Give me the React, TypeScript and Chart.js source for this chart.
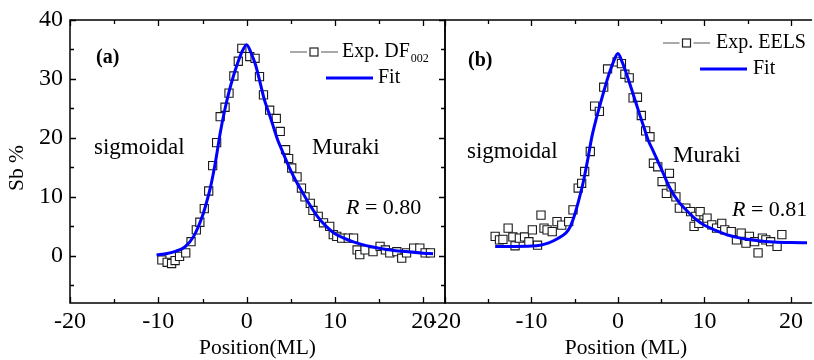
import React, { useEffect, useRef } from "react";
import { Chart, registerables } from "chart.js";

Chart.register(...registerables);

const FONT = "'Liberation Serif', 'Times New Roman', serif";

// ---------- axis ticks ----------
const xMajorTicks = [-20, -10, 0, 10, 20];
const xMinorTicks = [-15, -5, 5, 15];
const yMajorTicks = [0, 10, 20, 30, 40];
const yMinorTicks = [-5, 5, 15, 25, 35];

// ---------- panel (a): Exp. DF002 ----------
const expAx = [-9.6, -9.0, -8.5, -8.1, -7.6, -6.9, -6.3, -5.7, -5.3, -4.8, -4.3, -3.85, -3.4, -3.0, -2.45, -2.0, -1.45, -0.95, -0.55, 0.35, 0.95, 1.45, 1.9, 2.6, 3.35, 3.8, 4.4, 4.75, 5.1, 5.7, 6.2, 6.6, 7.2, 7.5, 8.1, 8.7, 9.4, 9.8, 10.2, 10.75, 11.5, 12.1, 12.5, 12.8, 13.4, 14.3, 15.1, 15.7, 16.2, 17.0, 17.55, 18.1, 18.9, 19.6, 20.2, 20.8];
const expAy = [-0.7, -1.1, -1.3, -0.8, -0.1, 0.5, 2.4, 4.4, 5.7, 8.0, 11.0, 15.3, 19.2, 23.6, 25.2, 27.6, 30.5, 33.0, 35.2, 33.8, 33.5, 30.4, 27.3, 24.7, 23.3, 21.1, 18.0, 16.5, 14.9, 13.4, 11.5, 10.0, 8.9, 7.7, 6.7, 5.6, 5.0, 3.6, 3.3, 3.0, 3.0, 3.0, 1.0, 0.2, 1.0, 0.7, 1.6, 1.0, 0.5, 0.7, -0.4, 0.5, 1.3, 1.3, 0.5, 0.5];
const fitAx = [-10.2, -9, -8, -7, -6, -5, -4.5, -4, -3.5, -3, -2.5, -2, -1.5, -1, -0.5, 0, 0.5, 1, 1.5, 2, 2.5, 3, 3.5, 4, 4.5, 5, 5.5, 6, 7, 8, 9, 10, 11, 12, 13, 14, 16, 18, 20, 21.1];
const fitAy = [0.15, 0.4, 0.8, 1.5, 3.3, 6.8, 9.3, 12.3, 16.2, 20.8, 24.6, 27.8, 30.5, 32.8, 34.7, 35.8, 34.4, 32.4, 29.5, 26.5, 24.3, 22.0, 19.7, 17.9, 16.1, 14.4, 12.9, 11.6, 9.0, 6.7, 5.0, 3.75, 3.0, 2.4, 1.95, 1.58, 1.05, 0.72, 0.45, 0.34];

// ---------- panel (b): Exp. EELS ----------
const expBx = [-14.2, -13.7, -13.3, -12.7, -12.15, -11.9, -11.4, -10.8, -10.3, -9.9, -9.3, -8.9, -8.55, -8.2, -7.6, -7.05, -6.5, -5.7, -5.2, -4.6, -4.2, -3.85, -3.2, -2.7, -2.15, -1.65, -1.2, -0.1, 0.4, 0.8, 1.3, 1.75, 2.25, 2.7, 3.2, 3.7, 4.1, 4.6, 5.1, 5.6, 5.95, 6.15, 6.7, 7.1, 7.85, 8.4, 8.8, 9.0, 9.35, 9.5, 10.3, 10.85, 11.4, 12.0, 12.35, 13.1, 13.7, 14.25, 14.8, 15.2, 15.8, 16.2, 16.7, 17.1, 17.65, 18.4, 18.95];
const expBy = [3.3, 2.7, 2.8, 4.7, 3.2, 1.7, 3.0, 3.2, 2.4, 4.4, 1.8, 6.9, 4.7, 4.4, 4.1, 5.8, 5.2, 5.8, 7.8, 11.5, 12.3, 14.3, 17.7, 25.4, 24.5, 28.6, 31.7, 32.9, 32.6, 30.8, 30.2, 26.8, 26.9, 23.8, 21.2, 20.2, 15.7, 15.1, 12.6, 10.6, 14.0, 11.7, 10.0, 8.1, 8.1, 7.5, 5.0, 6.7, 5.5, 7.5, 6.4, 5.25, 4.7, 5.5, 4.4, 4.1, 2.7, 3.85, 2.15, 3.3, 2.4, 0.5, 3.0, 2.7, 2.4, 1.6, 3.6];
const fitBx = [-14.2, -12, -10, -9, -8, -7, -6, -5.5, -5, -4.5, -4, -3.5, -3, -2.5, -2, -1.5, -1, -0.5, 0, 0.5, 1, 1.5, 2, 2.5, 3, 3.5, 4, 4.5, 5, 6, 7, 8, 9, 10, 11, 12, 13, 14, 15, 16, 17, 18, 20, 22];
const fitBy = [1.6, 1.6, 1.65, 1.8, 2.2, 2.9, 3.9, 5.0, 7.0, 9.6, 12.6, 16.3, 20.3, 23.3, 26.0, 28.6, 31.0, 33.0, 34.3, 32.8, 30.8, 28.6, 26.3, 24.0, 21.8, 19.6, 18.0, 16.4, 14.8, 11.5, 9.2, 7.6, 6.2, 5.2, 4.5, 3.9, 3.4, 3.05, 2.8, 2.6, 2.45, 2.35, 2.25, 2.2];

const pts = (xs: number[], ys: number[]) => xs.map((x, i) => ({ x, y: ys[i] }));

type Panel = {
  id: string;
  label: string;
  legendExp: string;
  legendSub: string;
  xTitle: string;
};

function drawTicks(chart: any, full: boolean) {
  const { ctx, chartArea, scales } = chart;
  const { left, right, top, bottom } = chartArea;
  const xs = scales.x;
  const ys = scales.y;
  ctx.save();
  ctx.strokeStyle = "#000";
  ctx.lineWidth = 1.5;
  ctx.beginPath();
  if (full) {
    ctx.rect(left, top, right - left, bottom - top);
  } else {
    ctx.moveTo(right + 5, top);
    ctx.lineTo(left, top);
    ctx.lineTo(left, bottom);
    ctx.lineTo(right + 5, bottom);
  }
  ctx.stroke();
  ctx.lineWidth = 1.3;
  ctx.beginPath();
  const xt = [...xMajorTicks.map((v) => [v, 6]), ...xMinorTicks.map((v) => [v, 4])];
  for (const [v, len] of xt) {
    const px = Math.round(xs.getPixelForValue(v)) + 0.5;
    if (px < left - 1 || px > right + 1) continue;
    ctx.moveTo(px, bottom);
    ctx.lineTo(px, bottom - len);
    ctx.moveTo(px, top);
    ctx.lineTo(px, top + len);
  }
  if (full) {
    const yt = [...yMajorTicks.map((v) => [v, 6]), ...yMinorTicks.map((v) => [v, 4])];
    for (const [v, len] of yt) {
      const py = Math.round(ys.getPixelForValue(v)) + 0.5;
      if (py < top - 1 || py > bottom + 1) continue;
      ctx.moveTo(left, py);
      ctx.lineTo(left + len, py);
      ctx.moveTo(right, py);
      ctx.lineTo(right - len, py);
    }
  }
  ctx.stroke();
  ctx.restore();
}

type Deco = {
  tag: [string, number, number];
  sig: [number, number];
  mur: [number, number];
  r: [string, number, number];
  leg: { lineX: [number, number]; y1: number; textX: number; fitX: [number, number]; y2: number; fitTextX: number };
};

function drawDeco(chart: any, p: Panel, d: Deco) {
  const ctx = chart.ctx;
  ctx.save();
  ctx.fillStyle = "#000";
  ctx.textBaseline = "alphabetic";
  ctx.textAlign = "left";
  ctx.font = `bold 20px ${FONT}`;
  ctx.fillText(d.tag[0], d.tag[1], d.tag[2]);
  ctx.font = `23px ${FONT}`;
  ctx.fillText("sigmoidal", d.sig[0], d.sig[1]);
  ctx.fillText("Muraki", d.mur[0], d.mur[1]);
  ctx.font = `italic 22px ${FONT}`;
  ctx.fillText("R", d.r[1], d.r[2]);
  const rw = ctx.measureText("R").width;
  ctx.font = `22px ${FONT}`;
  ctx.fillText(" = " + d.r[0], d.r[1] + rw, d.r[2]);

  // legend
  const L = d.leg;
  const cx = (L.lineX[0] + L.lineX[1]) / 2;
  ctx.strokeStyle = "#555";
  ctx.lineWidth = 1.2;
  ctx.beginPath();
  ctx.moveTo(L.lineX[0], L.y1);
  ctx.lineTo(cx - 7, L.y1);
  ctx.moveTo(cx + 7, L.y1);
  ctx.lineTo(L.lineX[1], L.y1);
  ctx.stroke();
  ctx.fillStyle = "#fff";
  ctx.fillRect(cx - 4, L.y1 - 4, 8, 8);
  ctx.strokeStyle = "#222";
  ctx.strokeRect(cx - 4, L.y1 - 4, 8, 8);
  ctx.fillStyle = "#000";
  ctx.textBaseline = "middle";
  ctx.font = `20px ${FONT}`;
  ctx.fillText(p.legendExp, L.textX, L.y1);
  if (p.legendSub) {
    const w = ctx.measureText(p.legendExp).width;
    ctx.font = `12px ${FONT}`;
    ctx.fillText(p.legendSub, L.textX + w + 1, L.y1 + 7);
  }
  ctx.strokeStyle = "#0000ff";
  ctx.lineWidth = 3;
  ctx.beginPath();
  ctx.moveTo(L.fitX[0], L.y2);
  ctx.lineTo(L.fitX[1], L.y2);
  ctx.stroke();
  ctx.font = `20px ${FONT}`;
  ctx.fillText("Fit", L.fitTextX, L.y2);
  ctx.restore();
}

function makeConfig(
  which: "a" | "b",
  exp: { x: number; y: number }[],
  fit: { x: number; y: number }[],
  p: Panel,
  d: Deco
): any {
  const full = which === "a";
  return {
    type: "scatter",
    data: {
      datasets: [
        {
          label: "Fit",
          data: fit,
          showLine: true,
          borderColor: "#0000ff",
          borderWidth: 3,
          pointRadius: 0,
          cubicInterpolationMode: "monotone",
          order: 0,
        },
        {
          label: p.label,
          data: exp,
          showLine: false,
          pointStyle: "rect",
          pointRadius: 5.8,
          borderColor: "#1a1a1a",
          borderWidth: 1.1,
          backgroundColor: "#ffffff",
          order: 1,
        },
      ],
    },
    options: {
      animation: false,
      responsive: false,
      events: [],
      layout: {
        padding: full
          ? { left: 0, top: 20, right: 369, bottom: 0 }
          : { left: 445, top: 20, right: 0, bottom: 0 },
      },
      plugins: { legend: { display: false }, tooltip: { enabled: false } },
      scales: {
        x: {
          type: "linear",
          min: -20,
          max: full ? 22.45 : 21.87,
          afterBuildTicks: (s: any) => {
            s.ticks = xMajorTicks.map((v) => ({ value: v }));
          },
          afterFit: (s: any) => {
            s.height = 57;
            s.paddingLeft = 0;
            s.paddingRight = 0;
          },
          grid: { display: false, drawTicks: false },
          border: { display: false },
          ticks: {
            color: "#000",
            font: { family: FONT, size: 24 },
            padding: 4,
            maxRotation: 0,
            autoSkip: false,
          },
          title: {
            display: true,
            text: p.xTitle,
            color: "#000",
            font: { family: FONT, size: 21.5, lineHeight: 1.0 },
            padding: { top: 0, bottom: 0.5 },
          },
        },
        y: {
          type: "linear",
          display: full,
          min: -8,
          max: 40,
          afterBuildTicks: (s: any) => {
            s.ticks = yMajorTicks.map((v) => ({ value: v }));
          },
          afterFit: (s: any) => {
            if (full) s.width = 70;
            s.paddingTop = 0;
            s.paddingBottom = 0;
          },
          grid: { display: false, drawTicks: false },
          border: { display: false },
          ticks: {
            color: "#000",
            font: { family: FONT, size: 24 },
            padding: 7,
            autoSkip: false,
          },
        },
      },
    },
    plugins: [
      {
        id: "frame_" + which,
        afterDatasetsDraw(chart: any) {
          drawTicks(chart, full);
          drawDeco(chart, p, d);
          if (full) {
            const ctx = chart.ctx;
            ctx.save();
            ctx.fillStyle = "#000";
            ctx.font = `21.5px ${FONT}`;
            ctx.textAlign = "center";
            ctx.textBaseline = "middle";
            ctx.translate(17, 168);
            ctx.rotate(-Math.PI / 2);
            ctx.fillText("Sb %", 0, 0);
            ctx.restore();
          }
        },
      },
    ],
  };
}

const panelA: Panel = {
  id: "a",
  label: "Exp. DF002",
  legendExp: "Exp. DF",
  legendSub: "002",
  xTitle: "Position(ML)",
};
const panelB: Panel = {
  id: "b",
  label: "Exp. EELS",
  legendExp: "Exp. EELS",
  legendSub: "",
  xTitle: "Position (ML)",
};

const decoA: Deco = {
  tag: ["(a)", 96, 63],
  sig: [94, 154],
  mur: [312, 154],
  r: ["0.80", 346, 214],
  leg: { lineX: [290, 338], y1: 52, textX: 342, fitX: [326, 373], y2: 78, fitTextX: 378 },
};
const decoB: Deco = {
  tag: ["(b)", 468, 66],
  sig: [467, 158],
  mur: [673, 162],
  r: ["0.81", 732, 216],
  leg: { lineX: [663, 710], y1: 43, textX: 716, fitX: [700, 747], y2: 69, fitTextX: 753 },
};

export default function App() {
  const refA = useRef<HTMLCanvasElement>(null);
  const refB = useRef<HTMLCanvasElement>(null);
  useEffect(() => {
    const ca = new Chart(refA.current as any, makeConfig("a", pts(expAx, expAy), pts(fitAx, fitAy), panelA, decoA));
    const cb = new Chart(refB.current as any, makeConfig("b", pts(expBx, expBy), pts(fitBx, fitBy), panelB, decoB));
    return () => {
      ca.destroy();
      cb.destroy();
    };
  }, []);
  const style: React.CSSProperties = { position: "absolute", left: 0, top: 0, width: 814, height: 360 };
  return (
    <div style={{ position: "absolute", left: 0, top: 0, width: 814, height: 360, background: "#fff", overflow: "hidden" }}>
      <canvas ref={refA} width={814} height={360} style={style} />
      <canvas ref={refB} width={814} height={360} style={style} />
    </div>
  );
}
